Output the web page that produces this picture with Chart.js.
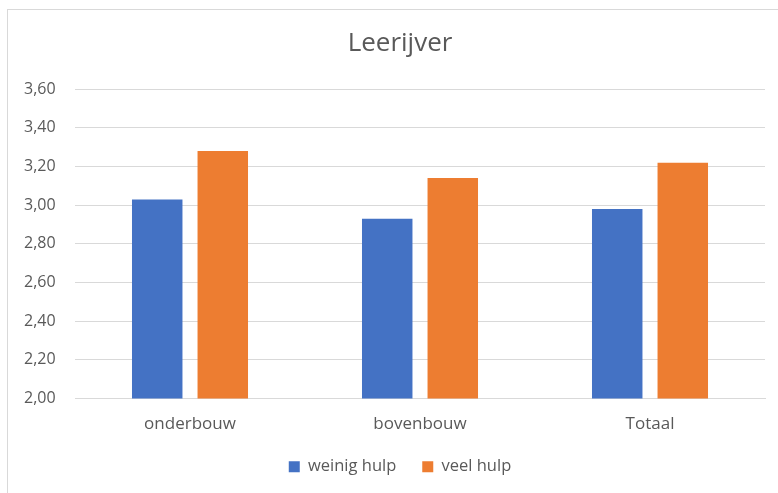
<!DOCTYPE html>
<html>
<head>
<meta charset="utf-8">
<script src="https://cdn.jsdelivr.net/npm/chart.js@4"></script>
<style>
  html, body { margin: 0; padding: 0; background: #fff; overflow: hidden; }
  #wrap { position: relative; width: 778px; height: 493px; }
  #frame { position: absolute; left: 7px; top: 9px; width: 800px; height: 500px;
           border: 1px solid #d9d9d9; pointer-events: none; }
</style>
</head>
<body>
<div id="wrap">
  <canvas id="chart"></canvas>
  <div id="frame"></div>
</div>
<script>
const categories = ['onderbouw', 'bovenbouw', 'Totaal'];
const weinigHulp = [3.03, 2.93, 2.98];
const veelHulp = [3.28, 3.14, 3.22];
const yTickLabels = ['2,00', '2,20', '2,40', '2,60', '2,80', '3,00', '3,20', '3,40', '3,60'];

const textColor = '#595959';
const gridColor = '#d9d9d9';
const fontFamily = '"Open Sans", sans-serif';

new Chart(document.getElementById('chart'), {
  type: 'bar',
  data: {
    labels: categories,
    datasets: [
      {
        label: 'weinig hulp',
        data: weinigHulp,
        backgroundColor: '#4472C4',
        borderWidth: 0,
        categoryPercentage: 0.57,
        barPercentage: 0.77
      },
      {
        label: 'veel hulp',
        data: veelHulp,
        backgroundColor: '#ED7D31',
        borderWidth: 0,
        categoryPercentage: 0.57,
        barPercentage: 0.77
      }
    ]
  },
  options: {
    responsive: true,
    maintainAspectRatio: false,
    animation: false,
    layout: {
      padding: { left: 35, right: 13, top: 18, bottom: 8 }
    },
    plugins: {
      title: {
        display: true,
        text: 'Leerijver',
        color: textColor,
        font: { family: fontFamily, size: 26, weight: 'normal' },
        padding: { top: 10, bottom: 30 }
      },
      legend: {
        position: 'bottom',
        labels: {
          color: textColor,
          font: { family: fontFamily, size: 16.5 },
          boxWidth: 11,
          boxHeight: 11,
          padding: 26
        }
      },
      tooltip: { enabled: false }
    },
    scales: {
      x: {
        afterFit: (scale) => { scale.height = 34; },
        grid: { display: false, drawTicks: false },
        border: { display: true, color: gridColor },
        ticks: {
          color: textColor,
          font: { family: fontFamily, size: 17 },
          padding: 15
        }
      },
      y: {
        min: 2,
        max: 3.6,
        afterFit: (scale) => { scale.width = 40; },
        grid: { color: gridColor, drawTicks: false },
        border: { display: false },
        ticks: {
          stepSize: 0.2,
          color: textColor,
          font: { family: fontFamily, size: 16 },
          // mirrored so the labels are not clipped to the narrow axis box
          mirror: true,
          crossAlign: 'far',
          padding: -51,
          callback: (value, index) => yTickLabels[index]
        }
      }
    }
  }
});
</script>
</body>
</html>
